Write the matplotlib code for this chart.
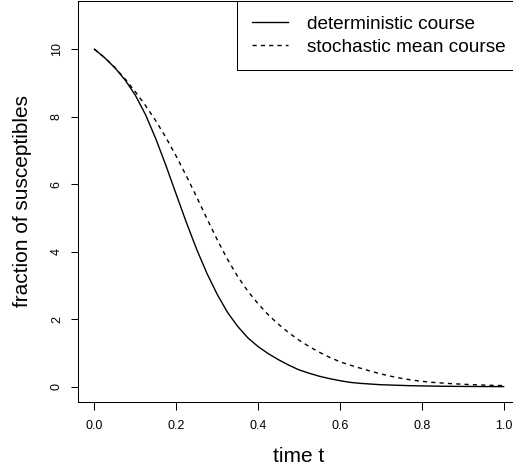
import matplotlib
matplotlib.use("Agg")
import matplotlib.pyplot as plt

plt.rcParams['font.family'] = ['Liberation Sans', 'DejaVu Sans']

# time grid (read at 0.025 steps)
time_t = [i * 0.025 for i in range(41)]

deterministic = [10.0, 9.75, 9.45, 9.09, 8.64, 8.06, 7.35, 6.55, 5.70, 4.86,
                 4.07, 3.36, 2.74, 2.21, 1.79, 1.45, 1.19, 0.98, 0.80, 0.64,
                 0.5, 0.4, 0.31, 0.24, 0.18, 0.13, 0.1, 0.08, 0.06, 0.05,
                 0.04, 0.03, 0.025, 0.02, 0.015, 0.012, 0.01, 0.008, 0.006, 0.005, 0.004]

stochastic = [10.0, 9.75, 9.46, 9.12, 8.74, 8.33, 7.88, 7.38, 6.83, 6.24,
              5.62, 4.98, 4.36, 3.78, 3.27, 2.83, 2.46, 2.13, 1.85, 1.60,
              1.38, 1.19, 1.02, 0.87, 0.74, 0.64, 0.55, 0.46, 0.38, 0.31,
              0.25, 0.2, 0.16, 0.13, 0.11, 0.09, 0.075, 0.06, 0.05, 0.04, 0.035]

x_ticks = [0.0, 0.2, 0.4, 0.6, 0.8, 1.0]
x_tick_labels = ["0.0", "0.2", "0.4", "0.6", "0.8", "1.0"]
y_ticks = [0, 2, 4, 6, 8, 10]
y_tick_labels = ["0", "2", "4", "6", "8", "10"]
legend_labels = ["deterministic course", "stochastic mean course"]

W, H = 513, 470
dpi = 100
fig = plt.figure(figsize=(W / dpi, H / dpi), dpi=dpi)

# plot region in pixels (right edge lies beyond the figure, as in the reference)
left_px, right_px, top_px, bottom_px = 78, 520, 0.6, 401.6
ax = fig.add_axes([left_px / W, 1 - bottom_px / H,
                   (right_px - left_px) / W, (bottom_px - top_px) / H])

ax.plot(time_t, deterministic, color='black', lw=1.0, linestyle='-',
        label=legend_labels[0])
ax.plot(time_t, stochastic, color='black', lw=1.0, linestyle=(0, (3, 3)),
        label=legend_labels[1])

ax.set_xlim(-0.04, 1.04)
ax.set_ylim(-0.44, 11.44)

ax.set_xticks(x_ticks)
ax.set_xticklabels(x_tick_labels)
ax.set_yticks(y_ticks)
ax.set_yticklabels(y_tick_labels, rotation=90, va='center')

ax.tick_params(axis='both', direction='out', length=5.4, width=0.75,
               labelsize=9)
ax.tick_params(axis='x', pad=8)
ax.tick_params(axis='y', pad=5.5)

for s in ax.spines.values():
    s.set_linewidth(0.75)

ax.set_xlabel("time t", fontsize=15)
ax.xaxis.label.set_va('baseline')
ax.xaxis.set_label_coords(0.5, -(462 - bottom_px) / (bottom_px - top_px))
ax.set_ylabel("fraction of susceptibles", fontsize=15)
ax.yaxis.label.set_va('baseline')
ax.yaxis.set_label_coords((28 - left_px) / (right_px - left_px), 0.5)

leg = ax.legend(loc='upper right', bbox_to_anchor=(1, 1), borderaxespad=0,
                fontsize=13.7, frameon=True, fancybox=False, framealpha=1,
                edgecolor='black', handlelength=1.9, handletextpad=0.95,
                borderpad=0.78, labelspacing=0.29)
leg.get_frame().set_linewidth(0.75)

fig.savefig("out.png", dpi=dpi)
